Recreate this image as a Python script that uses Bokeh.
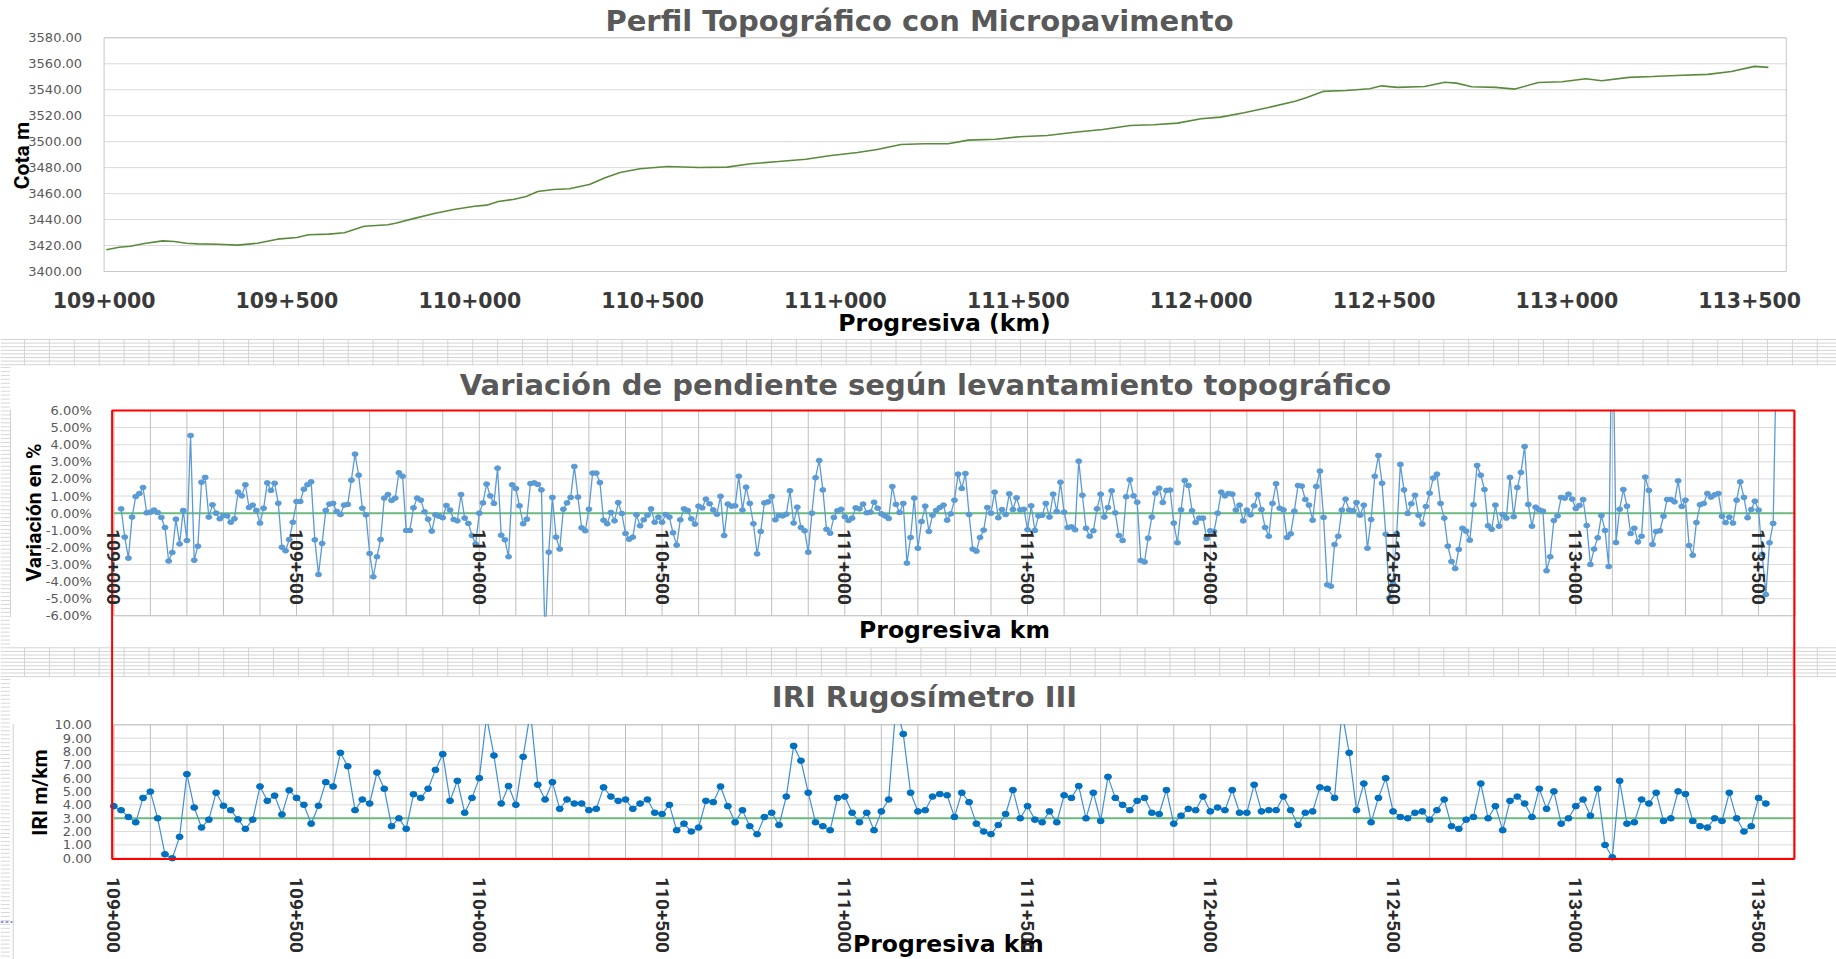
import numpy as np
from bokeh.plotting import figure
from bokeh.models import (Range1d, ColumnDataSource, LinearAxis, FixedTicker,
                          NumeralTickFormatter, PrintfTickFormatter)
from bokeh.core.properties import value
from bokeh.embed import file_html
from bokeh.resources import INLINE

# ---------------- data ----------------
# Perfil topografico: progresiva (m desde 109+000) y cota (m)
prog_perfil = [6, 41, 72, 110, 160, 192, 225, 257, 311, 365, 419, 474, 527, 559, 614, 657, 711,
               776, 797, 851, 906, 960, 1013, 1046, 1078, 1122, 1154, 1186, 1229, 1272, 1327,
               1370, 1411, 1465, 1541, 1627, 1703, 1768, 1844, 1919, 1983, 2060, 2114, 2179,
               2243, 2308, 2363, 2438, 2503, 2579, 2654, 2731, 2806, 2870, 2935, 3000, 3053,
               3117, 3181, 3257, 3289, 3333, 3396, 3461, 3493, 3536, 3611, 3666, 3698, 3740,
               3805, 3858, 3922, 3987, 4052, 4095, 4170, 4234, 4299, 4385, 4450, 4513, 4551]
cota = [3416.7, 3418.7, 3419.5, 3421.6, 3423.6, 3423.1, 3421.8, 3421.3, 3421.0, 3420.3,
        3421.8, 3424.9, 3426.2, 3428.3, 3428.8, 3429.8, 3434.9, 3436.0, 3437.2, 3441.1,
        3444.9, 3448.0, 3450.3, 3451.1, 3453.9, 3455.7, 3457.8, 3461.6, 3463.2, 3463.7,
        3467.0, 3472.2, 3476.3, 3479.1, 3480.9, 3480.1, 3480.4, 3483.0, 3484.7, 3486.5,
        3489.1, 3491.7, 3494.0, 3497.8, 3498.4, 3498.4, 3501.2, 3501.9, 3503.8, 3504.8,
        3507.3, 3509.4, 3512.5, 3513.0, 3514.3, 3517.6, 3518.9, 3522.3, 3526.1, 3531.2,
        3534.0, 3538.7, 3539.4, 3540.7, 3543.0, 3541.8, 3542.5, 3545.8, 3545.1, 3542.3,
        3541.8, 3540.5, 3545.6, 3546.1, 3548.4, 3546.9, 3549.5, 3550.2, 3551.0, 3551.8,
        3554.1, 3558.0, 3557.2]

# Variacion de pendiente (%), una lectura cada 10 m desde 109+020
pendiente = [
    0.25, -1.4, -2.63, -0.23, 0.97, 1.15, 1.5, 0.02, 0.06, 0.18,
    0.04, -0.25, -0.84, -2.8, -2.3, -0.35, -1.8, 0.16, -1.6, 4.54,
    -2.75, -1.93, 1.81, 2.09, -0.23, 0.49, 0.0, -0.33, -0.14, -0.16,
    -0.53, -0.33, 1.23, 1.01, 1.66, 0.33, 0.47, 0.16, -0.58, 0.29,
    1.77, 1.33, 1.75, 0.58, -1.99, -2.2, -1.54, -0.53, 0.68, 0.68,
    1.4, 1.66, 1.83, -1.56, -3.59, -1.77, 0.16, 0.53, 0.57, 0.1,
    -0.08, 0.47, 0.51, 1.93, 3.45, 2.22, 0.29, -0.1, -2.36, -3.72,
    -2.55, -1.54, 0.88, 1.09, 0.74, 0.88, 2.36, 2.16, -1.01, -1.01,
    0.31, 0.88, 0.76, 0.08, -0.35, -1.05, -0.1, -0.18, -0.27, 0.45,
    0.18, -0.37, -0.45, 1.09, -0.29, -0.6, -1.31, -1.8, 0.0, 0.6,
    1.7, 1.01, 0.57, 2.63, -1.29, -1.56, -2.55, 1.66, 1.44, 0.43,
    -0.62, -0.35, 1.73, 1.77, 1.68, 1.36, -7.5, -2.28, 0.92, -1.4,
    -2.1, 0.23, 0.6, 0.92, 2.73, 0.94, -0.86, -1.03, 0.23, 2.34,
    2.34, 1.79, -0.41, -0.62, 0.04, -0.45, 0.62,
    -0.02, -1.19, -1.52, -1.4, -0.1, -0.74, -0.39, -0.12, 0.25, -0.53,
    -0.23, -0.53, -0.08, -0.23, -1.15, -1.87, -0.39, 0.25, 0.16, -0.33,
    -0.64, 0.41, 0.31, 0.82, 0.55, 0.19, -0.06, 0.99, -1.31, 0.53,
    0.41, 0.43, 2.16, 0.18, 1.52, 0.57, -0.62, -2.38, -1.07, 0.6,
    0.66, 0.97, -0.39, -0.14, -0.16, -0.06, 1.31, -0.58, 0.35, -0.84,
    -1.03, -2.28, 0.0, 2.07, 3.08, 1.36, -0.94, -1.17, -0.25, 0.14,
    0.23, -0.21, -0.43, -0.29, 0.31, 0.25, 0.53, 0.02, 0.06, 0.64,
    0.29, -0.04, -0.16, -0.31, 1.56, 0.51, 0.04, 0.57, -2.92, -1.42,
    0.88, -2.05, -0.49, 0.41, -1.07, -0.12, 0.16, 0.33, 0.47, -0.41,
    -0.04, 0.76, 2.28, 1.44, 2.32, -0.08, -2.1, -2.22, -1.42, -0.99,
    0.33, 0.0, 1.23, -0.27, 0.21, -0.08, 1.13, 0.21, 0.9, 0.19,
    0.23, -0.97, 0.43, -1.01, -0.16, -0.12, 0.57, -0.23, 1.11, 0.1,
    1.81, 0.06, -0.84, -0.8, -0.97, 3.04, 1.05, -0.88, -1.35, -1.03,
    0.25, 1.11, -0.23, 0.33, 1.31, 0.02, -1.31, -1.6, 0.96, 1.95,
    1.01, 0.64, -2.77, -2.85, -1.46, -0.23, 1.17, 1.46, 0.62, 1.33,
    1.35, -0.58, -1.73, 0.19, 1.91, 1.62, 0.14, -0.55, -0.29, -0.29,
    -1.48, -1.03, -1.07, 0.0,
    1.23, 1.01, 1.15, 1.11, 0.18, 0.47, -0.45, 0.18, -0.1, 0.43,
    1.09, 0.21, -0.84, -1.35, 0.57, 1.72, 0.29, 0.19, -1.42, -1.21,
    0.12, 1.62, 1.58, 0.8, 0.47, -0.41, 1.56, 2.46, -0.25, -4.19,
    -4.27, -1.83, -1.35, 0.18, 0.82, 0.18, 0.14, 0.62, -0.12, 0.47,
    -2.05, -0.37, 2.16, 3.37, 1.75, -1.23, -4.95, -4.11, -1.2, 2.85,
    1.36, -0.02, 0.55, 1.05, -0.12, -0.64, 0.39, 1.17, 2.05, 2.28,
    0.57, -0.29, -1.93, -2.83, -3.24, -2.12, -0.88, -1.05, -1.58, 0.49,
    2.79, 2.22, 1.38, -0.74, -0.94, 0.47, -0.76, -0.08, -0.29, 2.09,
    -0.21, 1.5, 2.38, 3.9, 0.51, -0.76, 0.35, 0.19, 0.12, -3.37,
    -2.55, -0.43, -0.16, 0.92, 0.88, 1.11, 0.82, 0.27, 0.45, 0.8,
    -0.72, -3.0, -2.1, -1.44, -0.14, -1.01, -3.12, 13.0, -1.72, 0.23,
    1.38, 0.41, -1.19, -0.88, -1.68, -1.35, 2.11, 1.33, -1.83, -1.07,
    -1.03, -0.18, 0.8, 0.8, 0.66, 1.89, 0.39, 0.76, -1.89, -2.46,
    -0.55, 0.49, 0.57, 1.15, 0.94, 1.07, 1.15, -0.18, -0.55, -0.23,
    -0.58, 0.76, 1.83, 0.92, -0.27, 0.21, 0.7, 0.18, -2.4, -4.76,
    -1.73, -0.6, 10.5]

# IRI (m/km), una lectura cada 20 m desde 109+000
iri = [
    3.9, 3.6, 3.09, 2.69, 4.52, 4.99, 2.99, 0.3, 0.0, 1.6,
    6.3, 3.8, 2.3, 2.89, 4.91, 3.93, 3.6, 2.91, 2.2, 2.89,
    5.38, 4.3, 4.69, 3.28, 5.09, 4.52, 4.0, 2.59, 3.93, 5.7,
    5.38, 7.9, 6.89, 3.6, 4.4, 4.1, 6.42, 5.21, 2.4, 2.99,
    2.2, 4.79, 4.52, 5.21, 6.62, 7.8, 4.3, 5.8, 3.41, 4.52,
    6.0, 10.6, 7.7, 4.1, 5.41, 4.0, 7.6, 11.0, 5.51, 4.4,
    5.7, 3.7, 4.4, 4.1, 4.1, 3.6, 3.7, 5.31, 4.62, 4.3,
    4.4, 3.7, 4.1, 4.4, 3.41, 3.31, 4.0, 2.1, 2.59, 2.0,
    2.3, 4.3, 4.2, 5.38, 3.9, 2.69, 3.6, 2.4, 1.8, 3.09,
    3.41, 2.49, 4.62, 8.42, 7.31, 4.91, 2.69, 2.4, 2.1, 4.52,
    4.62, 3.41, 2.69, 3.41, 2.1, 3.51, 4.4, 11.5, 9.31, 4.91,
    3.51, 3.6, 4.62, 4.81, 4.72, 3.09, 4.91, 4.2, 2.59, 2.0,
    1.8, 2.49, 3.31, 5.11, 2.99, 3.9, 2.89, 2.69, 3.51, 2.69,
    4.72, 4.52, 5.41, 2.99, 4.91, 2.79, 6.1, 4.52, 4.0, 3.6,
    4.3, 4.52, 3.41, 3.31, 5.11, 2.59, 3.19, 3.7, 3.6, 4.62, 3.51, 3.8,
    3.6, 5.11, 3.41, 3.41, 5.51, 3.51, 3.6, 3.6, 4.62, 3.6,
    2.49, 3.41, 3.51, 5.31, 5.21, 4.52, 11.0, 7.9, 3.6, 5.6,
    2.69, 4.52, 6.0, 3.51, 3.09, 2.99, 3.41, 3.51, 2.89, 3.6,
    4.4, 2.4, 2.2, 2.89, 3.09, 5.6, 2.99, 3.9, 2.1, 4.3,
    4.62, 4.1, 3.09, 5.21, 3.7, 5.01, 2.59, 2.99, 3.9, 4.4,
    3.19, 5.21, 0.99, 0.07, 5.8, 2.59, 2.69, 4.4, 4.1, 4.91,
    2.79, 2.99, 5.01, 4.81, 2.79, 2.4, 2.3, 2.99, 2.79, 4.91,
    2.99, 2.0, 2.4, 4.52, 4.1]

prog_ticks = [0, 500, 1000, 1500, 2000, 2500, 3000, 3500, 4000, 4500]
prog_labels = ["109+000", "109+500", "110+000", "110+500", "111+000",
               "111+500", "112+000", "112+500", "113+000", "113+500"]
prog_grid = list(range(0, 4601, 100))
cota_ticks = list(range(3400, 3581, 20))
pend_ticks = list(range(-6, 7))
iri_ticks = list(range(0, 11))
pend_ref = [0.0]
iri_ref = [3.0]

titles = ["Perfil Topográfico con Micropavimento",
          "Variación de pendiente según levantamiento topográfico",
          "IRI Rugosímetro III"]
x_titles = ["Progresiva (km)", "Progresiva km", "Progresiva  km"]
y_titles = ["Cota m", "Variación en %", "IRI m/km"]

prog_pend = [20 + 10 * i for i in range(len(pendiente))]
prog_iri = [20 * i for i in range(len(iri))]

# ---------------- layout (page pixels) ----------------
W, H, OFF = 1836, 959, 0


def xr(d0, d1, p0, p1):
    s = (d1 - d0) / (p1 - p0)
    return Range1d(d0 - (p0 - OFF) * s, d1 + (OFF + W - p1) * s)


def yr(d0, d1, p0, p1):
    s = (d1 - d0) / (p0 - p1)
    return Range1d(d0 - (OFF + H - p0) * s, d1 + (p1 - OFF) * s)


p = figure(width=W, height=H, x_range=Range1d(OFF, OFF + W), y_range=Range1d(OFF + H, OFF),
           x_axis_location=None, y_axis_location=None, toolbar_location=None,
           output_backend="svg", min_border=0, outline_line_color=None,
           background_fill_color="white", border_fill_color="white", title=None)
p.grid.visible = False
p.extra_x_ranges = {"tx": xr(0, 4600, 103.6, 1785.8), "mx": xr(0, 4600, 113.3, 1794.6)}
p.extra_y_ranges = {"ty": yr(3400, 3580, 271.0, 37.3),
                    "sy": yr(-6, 6, 615.3, 410.0),
                    "iy": yr(0, 10, 857.7, 724.3)}
T = dict(x_range_name="tx", y_range_name="ty")
S = dict(x_range_name="mx", y_range_name="sy")
I = dict(x_range_name="mx", y_range_name="iy")

GRID_L, GRID_D = "#DADADA", "#BFBFBF"
NARROW = "Roboto"

# ---- middle chart (pendiente) ----
p.segment(x0=0, x1=4600, y0=pend_ticks, y1=pend_ticks, line_color=GRID_L, line_width=1, **S)
p.segment(x0=prog_grid, x1=prog_grid, y0=-6, y1=6, line_color=GRID_D, line_width=1, **S)
p.quad(left=[0], right=[4600], bottom=[-6], top=[6], fill_color=None, line_color=GRID_D, **S)
p.segment(x0=[0], x1=[4600], y0=pend_ref, y1=pend_ref, line_color="#6DBB80", line_width=2, **S)
src_s = ColumnDataSource(dict(x=prog_pend, y=pendiente))
p.line("x", "y", source=src_s, line_color="#5B9BD5", line_width=1.3, **S)
p.ellipse("x", "y", width=6, height=4.6, width_units="screen", height_units="screen",
          source=src_s, fill_color="#5B9BD5", line_color="#5B9BD5", **S)

# ---- bottom chart (IRI) ----
p.segment(x0=0, x1=4600, y0=iri_ticks, y1=iri_ticks, line_color=GRID_L, line_width=1, **I)
p.segment(x0=prog_grid, x1=prog_grid, y0=0, y1=10, line_color=GRID_D, line_width=1, **I)
p.quad(left=[0], right=[4600], bottom=[0], top=[10], fill_color=None, line_color=GRID_D, **I)
p.segment(x0=[0], x1=[4600], y0=iri_ref, y1=iri_ref, line_color="#6DBB80", line_width=2, **I)
src_i = ColumnDataSource(dict(x=prog_iri, y=iri))
p.line("x", "y", source=src_i, line_color="#3F8FD8", line_width=1.2, **I)
p.ellipse("x", "y", width=7, height=5.6, width_units="screen", height_units="screen",
          source=src_i, fill_color="#0070C0", line_color="#0070C0", **I)

# ---- clip masks (outside the plot areas) ----
p.quad(left=[OFF, OFF], right=[OFF + W, OFF + W], top=[OFF, 616.3], bottom=[409.2, 723.6],
       fill_color="white", line_color=None)

# ---- spreadsheet strips and chart boxes ----
strip_y = [339 + 3.6 * k for k in range(8)] + [647.3 + 3.6 * k for k in range(9)]
strip_x = [24 + 24.9 * k for k in range(74)]
side_y = [367 + 3.95 * k for k in range(71)] + [679 + 3.95 * k for k in range(71)]
p.segment(x0=OFF, x1=OFF + W, y0=strip_y, y1=strip_y, line_color="#D4D4D4", line_width=1)
p.segment(x0=strip_x, x1=strip_x, y0=338.5, y1=365, line_color="#D4D4D4", line_width=1)
p.segment(x0=strip_x, x1=strip_x, y0=646.8, y1=676, line_color="#D4D4D4", line_width=1)
p.segment(x0=0, x1=9.5, y0=side_y, y1=side_y, line_color="#D8D8D8", line_width=1)
p.quad(left=[10, 12.7], right=[1850, 1850], top=[365, 676], bottom=[646.5, 975],
       fill_color="white", line_color="#D0D0D0", level="underlay")
p.segment(x0=[0], x1=[12], y0=[921.5], y1=[921.5], line_color="#2A2AB8", line_width=1,
          line_dash="3 2")

# ---- top chart (perfil) ----
p.segment(x0=0, x1=4600, y0=cota_ticks, y1=cota_ticks, line_color=GRID_L, line_width=1, **T)
p.quad(left=[0], right=[4600], bottom=[3400], top=[3580], fill_color=None, line_color="#C8C8C8", **T)
p.line(prog_perfil, cota, line_color="#5A8A3C", line_width=1.6, **T)

# ---- red frame ----
p.quad(left=[111.6], right=[1793.8], top=[410], bottom=[858.6], fill_color=None,
       line_color="#FF0000", line_width=2)

# ---- texts ----
p.text(x=[919, 925, 924], y=[20, 384, 696], text=titles, text_font=value("DejaVu Sans"),
       text_font_style="bold", text_font_size="29px", text_color="#595959",
       text_align="center", text_baseline="middle")
p.text(x=[944, 954, 952], y=[322, 629, 943], text=x_titles, text_font=value("DejaVu Sans"),
       text_font_style="bold", text_font_size="23.5px", text_color="black",
       text_align="center", text_baseline="middle")
p.text(x=[21, 33, 39], y=[155, 512, 792], text=y_titles, angle=np.pi / 2,
       text_font=value(NARROW), text_font_style="bold", text_font_size="21px",
       text_color="black", text_align="center", text_baseline="middle")


# ---- axes ----
def axis(side, ranges, loc, ticks, bounds, standoff, font="DejaVu Sans", size="13px",
         style="normal", color="#595959", orientation="horizontal", formatter=None,
         overrides=None):
    ax = LinearAxis(fixed_location=loc, ticker=FixedTicker(ticks=ticks), bounds=bounds,
                    axis_line_color=None, major_tick_line_color=None,
                    minor_tick_line_color=None, major_label_standoff=standoff,
                    major_label_text_font=font, major_label_text_font_size=size,
                    major_label_text_font_style=style, major_label_text_color=color,
                    major_label_orientation=orientation, **ranges)
    if formatter is not None:
        ax.formatter = formatter
    if overrides is not None:
        ax.major_label_overrides = overrides
    p.add_layout(ax, side)


labels = dict(zip(prog_ticks, prog_labels))
axis("left", T, 0, cota_ticks, (3400, 3580), 16, formatter=NumeralTickFormatter(format="0.00"))
axis("below", T, 3400, prog_ticks, (0, 4600), 14, size="20.5px", style="bold",
     color="#3A3A3A", overrides=labels)
axis("left", S, 0, pend_ticks, (-6, 6), 16, formatter=PrintfTickFormatter(format="%.2f%%"))
axis("below", S, 0, prog_ticks, (0, 4600), 10, font=NARROW, size="19px",
     style="bold", color="#2A2A2A", orientation="vertical", overrides=labels)
axis("left", I, 0, iri_ticks, (0, 10), 16, formatter=NumeralTickFormatter(format="0.00"))
axis("below", I, 0, prog_ticks, (0, 4600), 13, font=NARROW, size="19px",
     style="bold", color="#2A2A2A", orientation="vertical", overrides=labels)

open("out.html", "w").write(file_html(p, INLINE))
